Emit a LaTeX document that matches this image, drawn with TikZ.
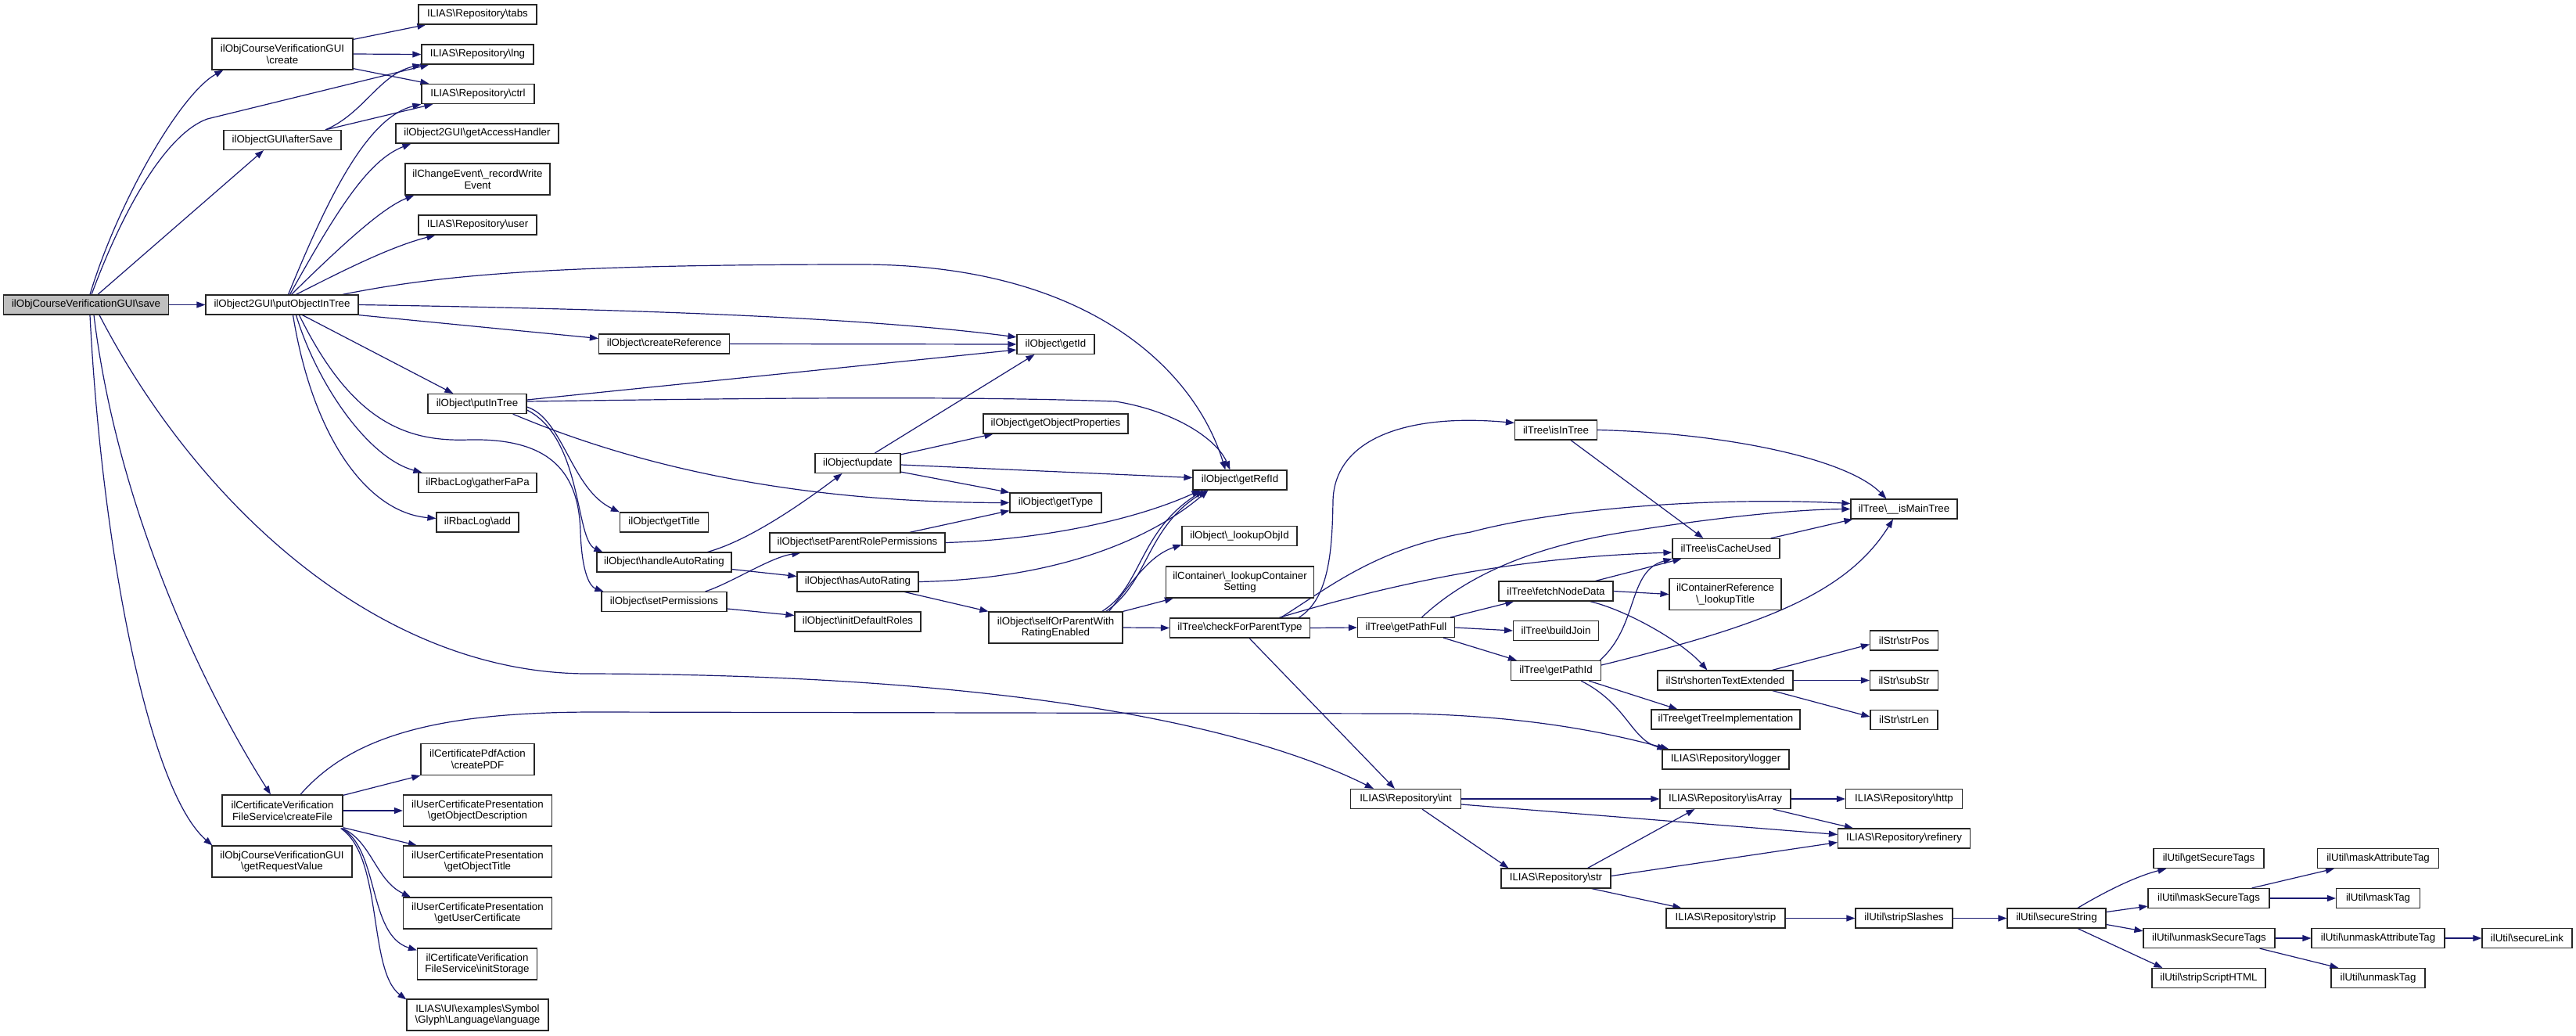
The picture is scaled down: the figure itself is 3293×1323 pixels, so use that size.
\documentclass[tikz,border=0pt]{standalone}
\usepackage{fontspec}
\setmainfont{Liberation Sans}
\usetikzlibrary{arrows.meta,calc}
\definecolor{edgec}{HTML}{191970}
\definecolor{rootc}{HTML}{BFBFBF}
\newcommand{\bsl}{\textbackslash}
\pgfdeclarelayer{bg}
\pgfsetlayers{bg,main}
\tikzset{
 fn/.style={draw=black!85, line width=1.2pt, fill=white, inner sep=0pt, align=center,
   font=\fontsize{13.3pt}{14.7pt}\selectfont, minimum height=25pt},
 tw/.style={minimum height=40pt},
 wd/.style={minimum width=#1},
 ed/.style={draw=edgec, line width=1.2pt, -{Triangle[length=11pt,width=8pt]}},
}
\begin{document}
\begin{tikzpicture}[x=1pt,y=-1pt]
\useasboundingbox (0,0) rectangle (3293,1323);
% column A
\node[fn, wd=211pt, fill=rootc] (save) at (110,389.5) {ilObjCourseVerificationGUI\bsl save};
% column B
\node[fn, tw, wd=180pt] (create) at (361,69) {ilObjCourseVerificationGUI\\\bsl create};
\node[fn, wd=150pt] (afterSave) at (361,179) {ilObjectGUI\bsl afterSave};
\node[fn, wd=195pt] (pOIT) at (360.5,389.5) {ilObject2GUI\bsl putObjectInTree};
\node[fn, tw, wd=154pt] (createFile) at (361,1036) {ilCertificateVerification\\FileService\bsl createFile};
\node[fn, tw, wd=179pt] (getRequestValue) at (360.5,1101) {ilObjCourseVerificationGUI\\\bsl getRequestValue};
% column C
\node[fn, wd=151pt] (tabs) at (610.5,18.5) {ILIAS\bsl Repository\bsl tabs};
\node[fn, wd=143pt] (lng) at (610.5,69.5) {ILIAS\bsl Repository\bsl lng};
\node[fn, wd=144pt] (ctrl) at (611,120) {ILIAS\bsl Repository\bsl ctrl};
\node[fn, wd=208pt] (getAccessHandler) at (610,170.5) {ilObject2GUI\bsl getAccessHandler};
\node[fn, tw, wd=185pt] (recordWriteEvent) at (610.5,229) {ilChangeEvent\bsl\_recordWrite\\Event};
\node[fn, wd=151pt] (user) at (610.5,287.5) {ILIAS\bsl Repository\bsl user};
\node[fn, wd=126pt] (putInTree) at (610,516) {ilObject\bsl putInTree};
\node[fn, wd=151pt] (gatherFaPa) at (610.5,617) {ilRbacLog\bsl gatherFaPa};
\node[fn, wd=105pt] (add) at (610.5,667.5) {ilRbacLog\bsl add};
\node[fn, tw, wd=145pt] (createPDF) at (610.5,970.5) {ilCertificatePdfAction\\\bsl createPDF};
\node[fn, tw, wd=190pt] (getObjectDescription) at (610.5,1036) {ilUserCertificatePresentation\\\bsl getObjectDescription};
\node[fn, tw, wd=190pt] (getObjectTitle) at (610.5,1101) {ilUserCertificatePresentation\\\bsl getObjectTitle};
\node[fn, tw, wd=190pt] (getUserCertificate) at (610.5,1167) {ilUserCertificatePresentation\\\bsl getUserCertificate};
\node[fn, tw, wd=153pt] (initStorage) at (610,1232) {ilCertificateVerification\\FileService\bsl initStorage};
\node[fn, tw, wd=181pt] (language) at (610.5,1297) {ILIAS\bsl UI\bsl examples\bsl Symbol\\\bsl Glyph\bsl Language\bsl language};
% column D
\node[fn, wd=167pt] (createReference) at (849,439.5) {ilObject\bsl createReference};
\node[fn, wd=113pt] (getTitle) at (849,667.5) {ilObject\bsl getTitle};
\node[fn, wd=172pt] (handleAutoRating) at (849,718.5) {ilObject\bsl handleAutoRating};
\node[fn, wd=160pt] (setPermissions) at (849,769) {ilObject\bsl setPermissions};
% column E
\node[fn, wd=109pt] (update) at (1096.5,592) {ilObject\bsl update};
\node[fn, wd=224pt] (setParentRolePermissions) at (1096,693.5) {ilObject\bsl setParentRolePermissions};
\node[fn, wd=155pt] (hasAutoRating) at (1096.5,743.5) {ilObject\bsl hasAutoRating};
\node[fn, wd=161pt] (initDefaultRoles) at (1096.5,794.5) {ilObject\bsl initDefaultRoles};
% column F
\node[fn, wd=99pt] (getId) at (1349.5,440) {ilObject\bsl getId};
\node[fn, wd=185pt] (getObjectProperties) at (1349.5,541.5) {ilObject\bsl getObjectProperties};
\node[fn, wd=117pt] (getType) at (1349.5,642.5) {ilObject\bsl getType};
\node[fn, tw, wd=171pt] (selfOrParent) at (1349.5,802) {ilObject\bsl selfOrParentWith\\RatingEnabled};
% column G
\node[fn, wd=120pt] (getRefId) at (1585,613.5) {ilObject\bsl getRefId};
\node[fn, wd=147pt] (lookupObjId) at (1584.5,685) {ilObject\bsl\_lookupObjId};
\node[fn, tw, wd=189pt] (lookupContainerSetting) at (1585,744) {ilContainer\bsl\_lookupContainer\\Setting};
\node[fn, wd=179pt] (checkForParentType) at (1585,802.5) {ilTree\bsl checkForParentType};
% column H
\node[fn, wd=124pt] (getPathFull) at (1797.5,802) {ilTree\bsl getPathFull};
\node[fn, wd=141pt] (int) at (1797,1021) {ILIAS\bsl Repository\bsl int};
% column I
\node[fn, wd=105pt] (isInTree) at (1989,549.5) {ilTree\bsl isInTree};
\node[fn, wd=146pt] (fetchNodeData) at (1989,755.5) {ilTree\bsl fetchNodeData};
\node[fn, wd=109pt] (buildJoin) at (1989,806) {ilTree\bsl buildJoin};
\node[fn, wd=115pt] (getPathId) at (1989,857) {ilTree\bsl getPathId};
\node[fn, wd=140pt] (str) at (1989,1122.5) {ILIAS\bsl Repository\bsl str};
% column J
\node[fn, wd=137pt] (isCacheUsed) at (2206.5,701) {ilTree\bsl isCacheUsed};
\node[fn, tw, wd=143pt] (lookupTitle) at (2205.5,759.5) {ilContainerReference\\\bsl\_lookupTitle};
\node[fn, wd=173pt] (shortenTextExtended) at (2205.5,869.5) {ilStr\bsl shortenTextExtended};
\node[fn, wd=190pt] (getTreeImplementation) at (2206,919.5) {ilTree\bsl getTreeImplementation};
\node[fn, wd=162pt] (logger) at (2206,970.5) {ILIAS\bsl Repository\bsl logger};
\node[fn, wd=167pt] (isArray) at (2205.5,1021) {ILIAS\bsl Repository\bsl isArray};
\node[fn, wd=152pt] (strip) at (2206,1173.5) {ILIAS\bsl Repository\bsl strip};
% column K
\node[fn, wd=136pt] (isMainTree) at (2434,650.5) {ilTree\bsl\_\_isMainTree};
\node[fn, wd=87pt] (strPos) at (2434,818.5) {ilStr\bsl strPos};
\node[fn, wd=87pt] (subStr) at (2434,869.5) {ilStr\bsl subStr};
\node[fn, wd=86pt] (strLen) at (2434,920) {ilStr\bsl strLen};
\node[fn, wd=149pt] (http) at (2434,1021) {ILIAS\bsl Repository\bsl http};
\node[fn, wd=169pt] (refinery) at (2434,1071.5) {ILIAS\bsl Repository\bsl refinery};
\node[fn, wd=124pt] (stripSlashes) at (2434,1173.5) {ilUtil\bsl stripSlashes};
% column L-O
\node[fn, wd=126pt] (secureString) at (2629,1173.5) {ilUtil\bsl secureString};
\node[fn, wd=141pt] (getSecureTags) at (2823.5,1097) {ilUtil\bsl getSecureTags};
\node[fn, wd=155pt] (maskSecureTags) at (2823.5,1148) {ilUtil\bsl maskSecureTags};
\node[fn, wd=168pt] (unmaskSecureTags) at (2824,1199) {ilUtil\bsl unmaskSecureTags};
\node[fn, wd=145pt] (stripScriptHTML) at (2823.5,1250) {ilUtil\bsl stripScriptHTML};
\node[fn, wd=155pt] (maskAttributeTag) at (3040,1097) {ilUtil\bsl maskAttributeTag};
\node[fn, wd=107pt] (maskTag) at (3040,1148) {ilUtil\bsl maskTag};
\node[fn, wd=170pt] (unmaskAttributeTag) at (3040,1199) {ilUtil\bsl unmaskAttributeTag};
\node[fn, wd=120pt] (unmaskTag) at (3040,1250) {ilUtil\bsl unmaskTag};
\node[fn, wd=115pt] (secureLink) at (3230.5,1199) {ilUtil\bsl secureLink};

\begin{pgfonlayer}{bg}
% from save
\draw[ed] ($(save.north)+(5,0)$) .. controls (150,260) and (230,120) .. ($(create.south west)+(15,0)$);
\draw[ed] ($(save.north)+(7,0)$) .. controls (160,260) and (215,170) .. (265,152) -- ($(lng.south west)+(10,0)$);
\draw[ed] ($(save.north)+(15,0)$) -- ($(afterSave.south)+(-24,0)$);
\draw[ed] (save.east) -- (pOIT.west);
\draw[ed] ($(save.south)+(10,0)$) .. controls (150,650) and (260,880) .. ($(createFile.north)+(-15,0)$);
\draw[ed] ($(save.south)+(5,0)$) .. controls (130,700) and (190,1010) .. ($(getRequestValue.north west)+(1,0)$);
\draw[ed] ($(save.south)+(17,0)$) .. controls (250,640) and (480,860) .. (750,861) .. controls (1300,862) and (1600,930) .. ($(int.north west)+(30,0)$);
% create
\draw[ed] ($(create.north east)+(0,2)$) -- ($(tabs.south west)+(10,0)$);
\draw[ed] (create.east) -- (lng.west);
\draw[ed] ($(create.south east)+(0,-2)$) -- ($(ctrl.north west)+(10,0)$);
% afterSave
\draw[ed] ($(afterSave.north)+(55,0)$) .. controls (465,145) and (485,95) .. (lng.south west);
\draw[ed] ($(afterSave.north)+(55,0)$) -- ($(ctrl.south west)+(15,0)$);
% putObjectInTree
\draw[ed] ($(pOIT.north)+(8,0)$) .. controls (420,250) and (470,150) .. (ctrl.south west);
\draw[ed] ($(pOIT.north)+(10,0)$) .. controls (430,270) and (470,205) .. ($(getAccessHandler.south west)+(20,0)$);
\draw[ed] ($(pOIT.north)+(12,0)$) .. controls (440,310) and (490,265) .. ($(recordWriteEvent.south west)+(12,0)$);
\draw[ed] ($(pOIT.north)+(18,0)$) .. controls (440,345) and (500,315) .. ($(user.south west)+(22,0)$);
\draw[ed] ($(pOIT.north east)+(-21,0)$) .. controls (560,352) and (700,338) .. (1100,338) .. controls (1400,338) and (1530,480) .. ($(getRefId.north west)+(42,0)$);
\draw[ed] (pOIT.east) .. controls (800,395) and (1100,405) .. ($(getId.north west)+(0,4)$);
\draw[ed] (pOIT.south east) -- ($(createReference.west)+(0,-7)$);
\draw[ed] ($(pOIT.south)+(26,0)$) -- ($(putInTree.north west)+(33,0)$);
\draw[ed] ($(pOIT.south)+(18,0)$) .. controls (405,490) and (470,585) .. ($(gatherFaPa.north west)+(5,0)$);
\draw[ed] ($(pOIT.south)+(14,0)$) .. controls (400,560) and (470,655) .. ($(add.west)+(0,-5)$);
\draw[ed] ($(pOIT.south)+(22,0)$) .. controls (450,540) and (520,565) .. (600,562) .. controls (700,560) and (740,600) .. (742,680) .. controls (744,735) and (755,750) .. ($(setPermissions.north west)+(3,0)$);
% putInTree
\draw[ed] ($(putInTree.east)+(0,-5)$) -- ($(getId.west)+(0,7)$);
\draw[ed] ($(putInTree.east)+(0,-3)$) .. controls (900,510) and (1200,505) .. (1426,513) .. controls (1500,525) and (1555,560) .. ($(getRefId.north west)+(48,0)$);
\draw[ed] ($(putInTree.south east)+(-18,0)$) .. controls (800,590) and (1000,642) .. (getType.west);
\draw[ed] ($(putInTree.east)+(0,4)$) .. controls (720,535) and (730,625) .. (getTitle.north west);
\draw[ed] ($(putInTree.east)+(0,8)$) .. controls (745,560) and (735,690) .. ($(handleAutoRating.north west)+(8,0)$);
% createReference, update
\draw[ed] (createReference.east) -- (getId.west);
\draw[ed] ($(update.north)+(22,0)$) -- ($(getId.south)+(-27,0)$);
\draw[ed] ($(update.north east)+(0,2)$) -- ($(getObjectProperties.south west)+(13,0)$);
\draw[ed] ($(update.east)+(0,2)$) -- ($(getRefId.west)+(0,-3)$);
\draw[ed] ($(update.south east)+(0,-2)$) -- (getType.north west);
% handleAutoRating, setPermissions
\draw[ed] ($(handleAutoRating.north east)+(-31,0)$) .. controls (960,690) and (1030,640) .. ($(update.south)+(-20,0)$);
\draw[ed] ($(handleAutoRating.east)+(0,9)$) -- ($(hasAutoRating.west)+(0,-7)$);
\draw[ed] ($(setPermissions.north east)+(-28,0)$) .. controls (935,745) and (985,712) .. ($(setParentRolePermissions.south west)+(40,0)$);
\draw[ed] ($(setPermissions.east)+(0,9)$) -- ($(initDefaultRoles.west)+(0,-8)$);
% setParentRolePermissions, hasAutoRating
\draw[ed] ($(setParentRolePermissions.north east)+(-46,0)$) -- ($(getType.south west)+(0,-3)$);
\draw[ed] (setParentRolePermissions.east) .. controls (1330,690) and (1450,665) .. ($(getRefId.south west)+(10,0)$);
\draw[ed] (hasAutoRating.east) .. controls (1350,740) and (1470,690) .. ($(getRefId.south west)+(20,0)$);
\draw[ed] ($(hasAutoRating.south east)+(-18,0)$) -- (selfOrParent.north west);
% selfOrParent
\draw[ed] ($(selfOrParent.north east)+(-27,0)$) .. controls (1460,750) and (1455,680) .. ($(getRefId.south west)+(14,0)$);
\draw[ed] ($(selfOrParent.north east)+(-22,0)$) .. controls (1468,745) and (1465,675) .. ($(getRefId.south west)+(18,0)$);
\draw[ed] ($(selfOrParent.north east)+(-18,0)$) .. controls (1450,740) and (1470,710) .. ($(lookupObjId.south west)+(0,-2)$);
\draw[ed] (selfOrParent.north east) -- ($(lookupContainerSetting.south west)+(10,0)$);
\draw[ed] (selfOrParent.east) -- (checkForParentType.west);
% checkForParentType
\draw[ed] ($(checkForParentType.north east)+(-15,0)$) .. controls (1700,765) and (1703,700) .. (1704,640) .. controls (1706,560) and (1800,528) .. ($(isInTree.west)+(0,-9)$);
\draw[ed] ($(checkForParentType.north east)+(-38,0)$) .. controls (1700,750) and (1760,700) .. (1880,680) .. controls (2000,648) and (2200,635) .. ($(isMainTree.west)+(0,-7)$);
\draw[ed] ($(checkForParentType.north east)+(-40,0)$) .. controls (1800,740) and (1950,712) .. ($(isCacheUsed.west)+(0,5)$);
\draw[ed] (checkForParentType.east) -- (getPathFull.west);
\draw[ed] ($(checkForParentType.south)+(12,0)$) -- ($(int.north west)+(57,0)$);
% getPathFull
\draw[ed] ($(getPathFull.north)+(20,0)$) .. controls (1870,740) and (1950,700) .. (2077,680) .. controls (2200,660) and (2300,651) .. (isMainTree.west);
\draw[ed] ($(getPathFull.north east)+(-6,0)$) -- ($(fetchNodeData.south west)+(20,0)$);
\draw[ed] (getPathFull.east) -- (buildJoin.west);
\draw[ed] ($(getPathFull.south east)+(-15,0)$) -- ($(getPathId.north west)+(8,0)$);
% isInTree, isCacheUsed, fetchNodeData
\draw[ed] (isInTree.east) .. controls (2200,553) and (2360,585) .. ($(isMainTree.north west)+(46,0)$);
\draw[ed] ($(isInTree.south)+(19,0)$) -- ($(isCacheUsed.north west)+(40,0)$);
\draw[ed] ($(isCacheUsed.north east)+(-12,0)$) -- ($(isMainTree.south west)+(3,0)$);
\draw[ed] ($(fetchNodeData.north east)+(-23,0)$) -- ($(isCacheUsed.south west)+(12,0)$);
\draw[ed] (fetchNodeData.east) -- (lookupTitle.west);
\draw[ed] ($(fetchNodeData.south east)+(-30,0)$) .. controls (2080,780) and (2150,820) .. ($(shortenTextExtended.north west)+(64,0)$);
% getPathId
\draw[ed] ($(getPathId.north east)+(-2,0)$) .. controls (2095,800) and (2080,730) .. (isCacheUsed.south west);
\draw[ed] ($(getPathId.east)+(0,-7)$) .. controls (2250,800) and (2360,760) .. ($(isMainTree.south)+(-14,0)$);
\draw[ed] ($(getPathId.south east)+(-16,0)$) -- ($(getTreeImplementation.north west)+(34,0)$);
\draw[ed] ($(getPathId.south east)+(-26,0)$) .. controls (2080,900) and (2085,945) .. ($(logger.north west)+(5,0)$);
% shortenTextExtended
\draw[ed] ($(shortenTextExtended.north east)+(-27,0)$) -- ($(strPos.west)+(0,5)$);
\draw[ed] (shortenTextExtended.east) -- (subStr.west);
\draw[ed] ($(shortenTextExtended.south east)+(-27,0)$) -- ($(strLen.west)+(0,-4)$);
% createFile
\draw[ed] ($(createFile.north)+(23,0)$) .. controls (450,940) and (560,910) .. (760,910) -- (1800,912) .. controls (1950,915) and (2050,935) .. ($(logger.north west)+(9,0)$);
\draw[ed] ($(createFile.north east)+(0,1)$) -- (createPDF.south west);
\draw[ed] (createFile.east) -- (getObjectDescription.west);
\draw[ed] ($(createFile.south east)+(0,1)$) -- ($(getObjectTitle.north west)+(18,0)$);
\draw[ed] ($(createFile.south east)+(-1,2)$) .. controls (475,1075) and (480,1125) .. ($(getUserCertificate.north west)+(10,0)$);
\draw[ed] ($(createFile.south east)+(-2,2)$) .. controls (485,1085) and (470,1195) .. ($(initStorage.north west)+(0,3)$);
\draw[ed] ($(createFile.south east)+(-3,2)$) .. controls (490,1095) and (470,1240) .. ($(language.north west)+(0,1)$);
% int, str, isArray
\draw[ed] (int.east) -- (isArray.west);
\draw[ed] ($(int.east)+(0,7)$) -- ($(refinery.west)+(0,-5)$);
\draw[ed] ($(int.south)+(21,0)$) -- ($(str.north west)+(10,0)$);
\draw[ed] (isArray.east) -- (http.west);
\draw[ed] ($(isArray.south east)+(-23,0)$) -- ($(refinery.north west)+(20,0)$);
\draw[ed] ($(str.north east)+(-30,0)$) -- ($(isArray.south west)+(45,0)$);
\draw[ed] ($(str.east)+(0,-3)$) -- ($(refinery.west)+(0,5)$);
\draw[ed] ($(str.south east)+(-25,0)$) -- ($(strip.north west)+(20,0)$);
\draw[ed] (strip.east) -- (stripSlashes.west);
\draw[ed] (stripSlashes.east) -- (secureString.west);
% secureString and beyond
\draw[ed] ($(secureString.north)+(27,0)$) .. controls (2690,1140) and (2730,1120) .. ($(getSecureTags.south west)+(17,0)$);
\draw[ed] ($(secureString.east)+(0,-8)$) -- ($(maskSecureTags.south west)+(0,-3)$);
\draw[ed] ($(secureString.east)+(0,8)$) -- ($(unmaskSecureTags.north west)+(0,4)$);
\draw[ed] ($(secureString.south)+(27,0)$) -- ($(stripScriptHTML.north west)+(14,0)$);
\draw[ed] ($(maskSecureTags.north east)+(-23,0)$) -- ($(maskAttributeTag.south west)+(22,0)$);
\draw[ed] (maskSecureTags.east) -- (maskTag.west);
\draw[ed] (unmaskSecureTags.east) -- (unmaskAttributeTag.west);
\draw[ed] ($(unmaskSecureTags.south east)+(-20,0)$) -- ($(unmaskTag.north west)+(10,0)$);
\draw[ed] (unmaskAttributeTag.east) -- (secureLink.west);
\end{pgfonlayer}
\end{tikzpicture}
\end{document}
